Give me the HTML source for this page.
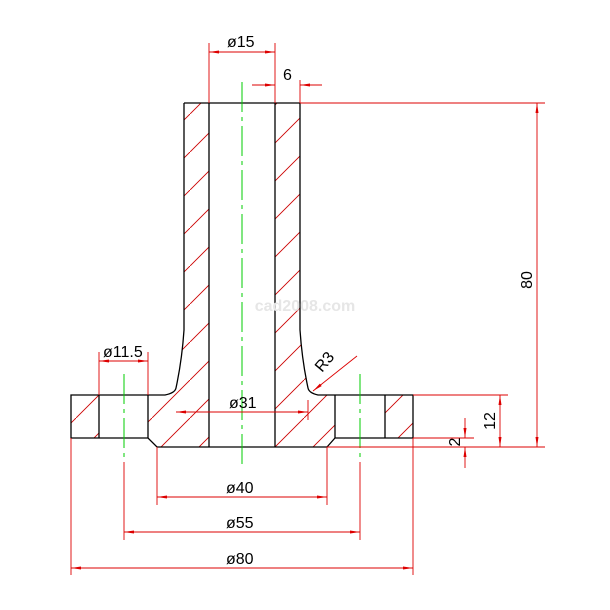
<!DOCTYPE html>
<html><head><style>body{margin:0;background:#fff}svg{display:block}</style></head><body>
<svg width="610" height="610" viewBox="0 0 610 610" xmlns="http://www.w3.org/2000/svg" font-family="Liberation Sans, sans-serif">
<defs>
<pattern id="h" patternUnits="userSpaceOnUse" width="38" height="38">
<line x1="-2" y1="40" x2="40" y2="-2" stroke="#c00" stroke-width="0.9"/>
</pattern>
<marker id="a" viewBox="0 0 10 4" refX="10" refY="2" markerWidth="10" markerHeight="4" orient="auto-start-reverse" markerUnits="userSpaceOnUse"><path d="M0,0.5L10,2L0,3.5z" fill="#d00"/></marker>
</defs>
<g fill="url(#h)" stroke="none">
<path d="M184,103H209V447H157L148,438V395H165Q175,393 176,388Q182,360 184,330Z"/>
<path d="M275,103H300V330Q302,360 308,388Q309,393 318,395H335V438L327,447H275Z"/>
<rect x="71" y="395" width="28" height="43"/>
<rect x="385" y="395" width="28" height="43"/>
</g>
<g stroke="#000" stroke-width="1.3" fill="none">
<path d="M184,103H300"/>
<path d="M184,103V330Q182,360 176,388Q175,393 165,395H71V438H148L157,447H327L335,438H413V395H318Q309,393 308,388Q302,360 300,330V103"/>
<path d="M209,103V447M275,103V447"/>
<path d="M99,395V438M148,395V438M335,395V438M385,395V438"/>
</g>
<g stroke="#0c0" stroke-width="1" stroke-dasharray="30,5,4,5">
<line x1="242" y1="82" x2="242" y2="468"/>
<line x1="124" y1="374" x2="124" y2="462"/>
<line x1="360" y1="374" x2="360" y2="462"/>
</g>
<g stroke="#d00" stroke-width="0.9" fill="none">
<path d="M209,43V103M275,43V103M300,80V103M300,103H545M327,447H545M413,395H508M413,438H474"/>
<path d="M99,352V395M148,352V395M308,400V420"/>
<path d="M157,447V505M327,447V505M124,462V540M360,462V540M71,438V575M413,438V575"/>
<line x1="209" y1="52" x2="275" y2="52" marker-start="url(#a)" marker-end="url(#a)"/>
<line x1="252" y1="85" x2="275" y2="85" marker-end="url(#a)"/>
<line x1="322" y1="85" x2="300" y2="85" marker-end="url(#a)"/>
<line x1="537" y1="103" x2="537" y2="447" marker-start="url(#a)" marker-end="url(#a)"/>
<line x1="500" y1="395" x2="500" y2="447" marker-start="url(#a)" marker-end="url(#a)"/>
<line x1="465" y1="418" x2="465" y2="438" marker-end="url(#a)"/>
<line x1="465" y1="468" x2="465" y2="447" marker-end="url(#a)"/>
<line x1="99" y1="361" x2="148" y2="361" marker-start="url(#a)" marker-end="url(#a)"/>
<line x1="176" y1="412" x2="308" y2="412" marker-start="url(#a)" marker-end="url(#a)"/>
<line x1="357" y1="356" x2="313" y2="391" marker-end="url(#a)"/>
<line x1="157" y1="497" x2="327" y2="497" marker-start="url(#a)" marker-end="url(#a)"/>
<line x1="124" y1="532" x2="360" y2="532" marker-start="url(#a)" marker-end="url(#a)"/>
<line x1="71" y1="568" x2="413" y2="568" marker-start="url(#a)" marker-end="url(#a)"/>
</g>
<g fill="#000" font-size="16">
<text x="227" y="47">ø15</text>
<text x="283" y="80">6</text>
<text x="103" y="357">ø11.5</text>
<text x="229" y="408">ø31</text>
<text x="226" y="493">ø40</text>
<text x="226" y="528">ø55</text>
<text x="226" y="564">ø80</text>
<text transform="translate(532,280) rotate(-90)" text-anchor="middle">80</text>
<text transform="translate(495,421) rotate(-90)" text-anchor="middle">12</text>
<text transform="translate(460,442) rotate(-90)" text-anchor="middle">2</text>
<text transform="translate(322,373) rotate(-50)">R3</text>
</g>
<text x="305" y="311" text-anchor="middle" font-size="16" font-weight="bold" fill="#e6e6e6">cad2008.com</text>
</svg>
</body></html>
